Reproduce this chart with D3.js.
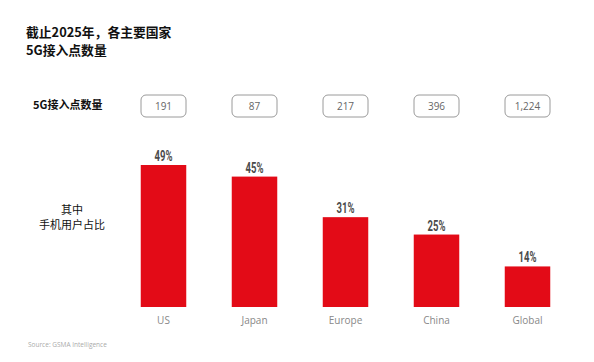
<!DOCTYPE html>
<html>
<head>
<meta charset="utf-8">
<script src="https://cdn.jsdelivr.net/npm/d3@7"></script>
<style>
	body { margin: 0; background: #fff; }
	svg { display: block; font-family: 'Noto Sans CJK SC', 'Open Sans', sans-serif; }
</style>
</head>
<body>
<div id="chart"></div>
<script>
var categories = ['US', 'Japan', 'Europe', 'China', 'Global'];
var mobileShare = [49, 45, 31, 25, 14];
var accessPoints = ['191', '87', '217', '396', '1,224'];

const WIDTH = 594;
const HEIGHT = 362;
const BAR_COLOR = '#e30b17';

var svg = d3.select('#chart').append('svg')
	.attr('width', WIDTH)
	.attr('height', HEIGHT);

var x = d3.scaleBand().domain(categories).range([118, 573]).paddingInner(0.5).paddingOuter(0.25);
var y = d3.scaleLinear().domain([0, 49]).range([307, 165]);

// title
var title = svg.append('text')
	.attr('x', 26)
	.attr('y', 37)
	.attr('font-size', 12.8)
	.attr('font-weight', 'bold')
	.attr('fill', '#111');
title.append('tspan').attr('x', 26).text('截止2025年，各主要国家');
title.append('tspan').attr('x', 26).attr('dy', 18).text('5G接入点数量');

// row labels
svg.append('text')
	.attr('x', 33)
	.attr('y', 109)
	.attr('font-size', 11)
	.attr('font-weight', 'bold')
	.attr('fill', '#111')
	.text('5G接入点数量');

var rowLabel = svg.append('text')
	.attr('x', 72)
	.attr('y', 214)
	.attr('text-anchor', 'middle')
	.attr('font-size', 11)
	.attr('fill', '#111');
rowLabel.append('tspan').attr('x', 72).text('其中');
rowLabel.append('tspan').attr('x', 72).attr('dy', 15).text('手机用户占比');

// access point boxes
var boxes = svg.selectAll('.box').data(categories).enter().append('g')
	.attr('class', 'box')
	.attr('transform', function (d) { return 'translate(' + (x(d) + x.bandwidth() / 2) + ',106)'; });

boxes.append('rect')
	.attr('x', -22.5)
	.attr('y', -11)
	.attr('width', 45)
	.attr('height', 22)
	.attr('rx', 5)
	.attr('fill', '#fff')
	.attr('stroke', '#9a9a9a')
	.attr('stroke-width', 1);

boxes.append('text')
	.attr('text-anchor', 'middle')
	.attr('y', 3.5)
	.attr('font-size', 10)
	.attr('font-family', 'Open Sans, sans-serif')
	.attr('fill', '#666')
	.text(function (d, i) { return accessPoints[i]; });

// bars
svg.selectAll('.bar').data(categories).enter().append('rect')
	.attr('class', 'bar')
	.attr('x', function (d) { return x(d); })
	.attr('y', function (d, i) { return y(mobileShare[i]); })
	.attr('width', x.bandwidth())
	.attr('height', function (d, i) { return y(0) - y(mobileShare[i]); })
	.attr('fill', BAR_COLOR);

// value labels, condensed
svg.selectAll('.val').data(categories).enter().append('text')
	.attr('class', 'val')
	.attr('text-anchor', 'middle')
	.attr('transform', function (d, i) {
		return 'translate(' + (x(d) + x.bandwidth() / 2) + ',' + (y(mobileShare[i]) - 4) + ') scale(0.68,1)';
	})
	.attr('font-family', 'Roboto, sans-serif')
	.attr('font-weight', 'bold')
	.attr('font-size', 14)
	.attr('fill', '#4a4a4a')
	.text(function (d, i) { return mobileShare[i] + '%'; });

// category axis
var xAxis = d3.axisBottom(x).tickSize(0).tickPadding(10);
var axisG = svg.append('g')
	.attr('transform', 'translate(0,307)')
	.call(xAxis);
axisG.select('.domain').remove();
axisG.selectAll('text')
	.attr('font-size', 10)
	.attr('font-family', 'Open Sans, sans-serif')
	.attr('fill', '#888');

// source
svg.append('text')
	.attr('x', 28)
	.attr('y', 347)
	.attr('font-size', 6.5)
	.attr('font-family', 'Open Sans, sans-serif')
	.attr('fill', '#aaa')
	.text('Source: GSMA Intelligence');
</script>
</body>
</html>
